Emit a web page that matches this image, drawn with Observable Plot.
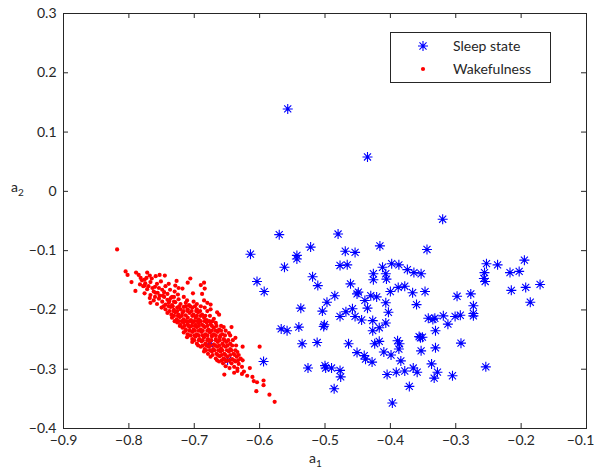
<!DOCTYPE html>
<html><head><meta charset="utf-8">
<script src="https://cdn.jsdelivr.net/npm/d3@7"></script>
<script src="https://cdn.jsdelivr.net/npm/@observablehq/plot@0.6"></script>
<style>
body{margin:0;background:#fff;}
#wrap{position:relative;width:594px;height:475px;}
</style></head><body><div id="wrap"></div>
<script>
const xTicks = [-0.9, -0.8, -0.7, -0.6, -0.5, -0.4, -0.3, -0.2, -0.1];
const yTicks = [-0.4, -0.3, -0.2, -0.1, 0, 0.1, 0.2, 0.3];
const seriesNames = ["Sleep state", "Wakefulness"];
const xLabel = "a", xSub = "1", yLabel = "a", ySub = "2";

// Sleep state: [a1, a2]
const sleep = [
  [-0.557,0.139],[-0.435,0.058],[-0.320,-0.047],
  [-0.570,-0.073],[-0.614,-0.106],[-0.562,-0.128],[-0.604,-0.152],[-0.593,-0.169],
  [-0.567,-0.232],[-0.558,-0.235],[-0.594,-0.287],[-0.676,-0.257],[-0.649,-0.285],
  [-0.480,-0.072],[-0.543,-0.108],[-0.543,-0.114],[-0.522,-0.094],[-0.469,-0.101],
  [-0.454,-0.103],[-0.416,-0.092],[-0.344,-0.098],[-0.477,-0.125],[-0.466,-0.124],
  [-0.519,-0.144],[-0.511,-0.159],[-0.461,-0.156],[-0.426,-0.139],[-0.426,-0.149],
  [-0.412,-0.128],[-0.407,-0.139],[-0.406,-0.148],[-0.398,-0.122],[-0.387,-0.124],
  [-0.374,-0.132],[-0.364,-0.137],[-0.353,-0.139],[-0.400,-0.169],[-0.388,-0.162],
  [-0.378,-0.160],[-0.366,-0.171],[-0.347,-0.169],[-0.451,-0.173],[-0.449,-0.170],
  [-0.485,-0.176],[-0.497,-0.187],[-0.430,-0.176],[-0.421,-0.178],[-0.439,-0.184],
  [-0.435,-0.197],[-0.407,-0.188],[-0.360,-0.191],[-0.537,-0.197],[-0.504,-0.202],
  [-0.458,-0.198],[-0.468,-0.203],[-0.477,-0.211],[-0.454,-0.211],[-0.444,-0.217],
  [-0.427,-0.218],[-0.403,-0.204],[-0.407,-0.222],[-0.417,-0.230],[-0.427,-0.235],
  [-0.502,-0.228],[-0.501,-0.225],[-0.540,-0.229],[-0.342,-0.214],[-0.335,-0.216],
  [-0.332,-0.214],[-0.319,-0.210],[-0.312,-0.224],[-0.301,-0.211],[-0.293,-0.209],
  [-0.273,-0.206],[-0.273,-0.210],[-0.273,-0.193],[-0.277,-0.173],[-0.298,-0.177],
  [-0.331,-0.235],[-0.356,-0.245],[-0.351,-0.246],[-0.354,-0.247],[-0.353,-0.269],
  [-0.331,-0.264],[-0.292,-0.256],[-0.389,-0.252],[-0.386,-0.257],[-0.387,-0.266],
  [-0.417,-0.253],[-0.424,-0.257],[-0.464,-0.257],[-0.512,-0.255],[-0.535,-0.257],
  [-0.451,-0.272],[-0.440,-0.277],[-0.438,-0.283],[-0.428,-0.288],[-0.410,-0.271],
  [-0.399,-0.276],[-0.384,-0.286],[-0.526,-0.298],[-0.500,-0.294],[-0.499,-0.298],
  [-0.490,-0.298],[-0.477,-0.302],[-0.476,-0.313],[-0.486,-0.333],[-0.405,-0.309],
  [-0.391,-0.305],[-0.378,-0.303],[-0.365,-0.298],[-0.359,-0.305],[-0.337,-0.291],
  [-0.328,-0.305],[-0.333,-0.315],[-0.305,-0.311],[-0.371,-0.329],[-0.397,-0.357],
  [-0.254,-0.296],[-0.257,-0.147],[-0.256,-0.137],[-0.255,-0.152],[-0.253,-0.122],
  [-0.236,-0.124],[-0.217,-0.137],[-0.203,-0.135],[-0.195,-0.116],[-0.215,-0.167],
  [-0.193,-0.162],[-0.171,-0.157],[-0.186,-0.187]
];

// Wakefulness: [a1, a2]
const wake = [
  [-0.818,-0.098],
  [-0.805,-0.135],[-0.802,-0.141],[-0.789,-0.137],[-0.785,-0.141],[-0.772,-0.137],[-0.773,-0.146],
  [-0.782,-0.146],[-0.768,-0.142],[-0.759,-0.143],[-0.753,-0.141],[-0.745,-0.142],[-0.776,-0.149],
  [-0.796,-0.153],[-0.780,-0.150],[-0.783,-0.157],[-0.776,-0.159],[-0.767,-0.153],[-0.757,-0.156],
  [-0.739,-0.156],[-0.727,-0.151],[-0.710,-0.154],[-0.690,-0.158],[-0.685,-0.154],[-0.706,-0.147],
  [-0.778,-0.160],[-0.772,-0.165],[-0.764,-0.163],[-0.762,-0.169],[-0.749,-0.166],[-0.729,-0.159],
  [-0.724,-0.163],[-0.718,-0.164],[-0.684,-0.164],[-0.746,-0.170],
  [-0.790,-0.168],[-0.776,-0.172],[-0.767,-0.175],[-0.759,-0.171],[-0.753,-0.176],[-0.741,-0.173],
  [-0.734,-0.178],[-0.730,-0.169],[-0.725,-0.174],[-0.702,-0.172],[-0.688,-0.173],
  [-0.768,-0.180],[-0.762,-0.184],[-0.754,-0.181],[-0.746,-0.178],[-0.741,-0.183],[-0.736,-0.180],
  [-0.731,-0.186],[-0.724,-0.182],[-0.716,-0.178],[-0.711,-0.184],
  [-0.767,-0.188],[-0.757,-0.190],[-0.749,-0.186],[-0.744,-0.191],[-0.739,-0.188],[-0.734,-0.192],
  [-0.729,-0.187],[-0.721,-0.190],[-0.713,-0.188],[-0.708,-0.192],[-0.701,-0.186],[-0.696,-0.190],
  [-0.685,-0.184],[-0.680,-0.188],[-0.675,-0.191],
  [-0.750,-0.196],[-0.744,-0.199],[-0.736,-0.195],[-0.731,-0.200],[-0.726,-0.196],[-0.721,-0.199],
  [-0.716,-0.195],[-0.710,-0.199],[-0.703,-0.196],[-0.696,-0.199],[-0.684,-0.196],[-0.675,-0.199],
  [-0.741,-0.205],[-0.735,-0.208],[-0.729,-0.204],[-0.724,-0.208],[-0.718,-0.205],[-0.713,-0.209],
  [-0.707,-0.205],[-0.701,-0.208],[-0.694,-0.204],[-0.688,-0.208],[-0.665,-0.204],[-0.662,-0.208],
  [-0.734,-0.213],[-0.727,-0.216],[-0.722,-0.212],[-0.716,-0.216],[-0.710,-0.213],[-0.705,-0.217],
  [-0.698,-0.213],[-0.693,-0.216],[-0.685,-0.213],[-0.681,-0.217],[-0.670,-0.215],
  [-0.726,-0.221],[-0.721,-0.225],[-0.716,-0.221],[-0.710,-0.224],[-0.703,-0.221],[-0.698,-0.225],
  [-0.693,-0.222],[-0.688,-0.225],[-0.681,-0.221],[-0.675,-0.224],[-0.667,-0.222],
  [-0.718,-0.230],[-0.713,-0.233],[-0.707,-0.229],[-0.701,-0.233],[-0.696,-0.229],[-0.690,-0.233],
  [-0.684,-0.229],[-0.678,-0.233],[-0.670,-0.230],[-0.662,-0.233],[-0.655,-0.229],[-0.643,-0.229],
  [-0.716,-0.238],[-0.710,-0.241],[-0.703,-0.237],[-0.696,-0.241],[-0.689,-0.237],[-0.683,-0.241],
  [-0.676,-0.238],[-0.670,-0.241],[-0.664,-0.237],[-0.657,-0.241],[-0.647,-0.239],
  [-0.711,-0.246],[-0.703,-0.249],[-0.698,-0.245],[-0.692,-0.249],[-0.685,-0.246],[-0.679,-0.249],
  [-0.673,-0.245],[-0.667,-0.249],[-0.661,-0.246],[-0.655,-0.249],[-0.637,-0.247],
  [-0.703,-0.254],[-0.696,-0.257],[-0.689,-0.253],[-0.683,-0.257],[-0.677,-0.254],[-0.670,-0.258],
  [-0.664,-0.254],[-0.657,-0.257],[-0.651,-0.254],[-0.645,-0.257],
  [-0.690,-0.262],[-0.684,-0.266],[-0.678,-0.262],[-0.671,-0.266],[-0.665,-0.262],[-0.659,-0.265],
  [-0.652,-0.262],[-0.645,-0.266],[-0.626,-0.262],[-0.600,-0.262],
  [-0.685,-0.270],[-0.679,-0.274],[-0.673,-0.270],[-0.666,-0.274],[-0.660,-0.270],[-0.654,-0.274],
  [-0.647,-0.270],[-0.640,-0.274],[-0.634,-0.271],
  [-0.675,-0.279],[-0.667,-0.282],[-0.661,-0.278],[-0.655,-0.282],[-0.649,-0.279],[-0.642,-0.283],
  [-0.635,-0.279],[-0.629,-0.282],
  [-0.662,-0.287],[-0.656,-0.290],[-0.650,-0.286],[-0.643,-0.290],[-0.637,-0.287],[-0.632,-0.291],
  [-0.652,-0.295],[-0.646,-0.298],[-0.639,-0.296],[-0.634,-0.299],[-0.627,-0.296],[-0.615,-0.298],
  [-0.654,-0.309],[-0.639,-0.306],[-0.634,-0.303],[-0.627,-0.308],[-0.619,-0.311],[-0.624,-0.304],
  [-0.611,-0.313],[-0.609,-0.320],[-0.604,-0.322],[-0.594,-0.319],
  [-0.594,-0.327],[-0.605,-0.337],[-0.585,-0.343],[-0.577,-0.355],
  // denser core
  [-0.775,-0.155],[-0.770,-0.160],[-0.765,-0.147],[-0.760,-0.161],[-0.754,-0.163],[-0.751,-0.152],
  [-0.744,-0.160],[-0.737,-0.166],[-0.756,-0.171],[-0.748,-0.176],[-0.738,-0.185],[-0.760,-0.178],
  [-0.731,-0.178],
  [-0.747,-0.194],[-0.739,-0.194],[-0.733,-0.194],[-0.723,-0.194],[-0.713,-0.194],[-0.706,-0.194],
  [-0.699,-0.194],[-0.690,-0.194],
  [-0.738,-0.202],[-0.732,-0.202],[-0.726,-0.202],[-0.716,-0.202],[-0.710,-0.202],[-0.704,-0.202],
  [-0.697,-0.202],[-0.691,-0.202],[-0.680,-0.202],
  [-0.731,-0.210],[-0.725,-0.210],[-0.719,-0.210],[-0.703,-0.210],[-0.696,-0.210],[-0.690,-0.210],
  [-0.683,-0.210],[-0.676,-0.210],
  [-0.730,-0.219],[-0.724,-0.219],[-0.719,-0.219],[-0.712,-0.219],[-0.707,-0.219],[-0.700,-0.219],
  [-0.695,-0.219],[-0.690,-0.219],[-0.684,-0.219],[-0.677,-0.219],[-0.672,-0.219],
  [-0.722,-0.227],[-0.715,-0.227],[-0.709,-0.227],[-0.704,-0.227],[-0.699,-0.227],[-0.693,-0.227],
  [-0.686,-0.227],[-0.680,-0.227],[-0.673,-0.227],[-0.666,-0.227],[-0.659,-0.227],
  [-0.713,-0.235],[-0.707,-0.235],[-0.699,-0.235],[-0.693,-0.235],[-0.687,-0.235],[-0.680,-0.235],
  [-0.673,-0.235],[-0.667,-0.235],[-0.659,-0.235],[-0.652,-0.235],
  [-0.706,-0.243],[-0.700,-0.243],[-0.693,-0.243],[-0.687,-0.243],[-0.680,-0.243],[-0.673,-0.243],
  [-0.667,-0.243],[-0.660,-0.243],[-0.653,-0.243],[-0.645,-0.243],
  [-0.700,-0.251],[-0.693,-0.251],[-0.687,-0.251],[-0.680,-0.251],[-0.674,-0.251],[-0.667,-0.251],
  [-0.661,-0.251],[-0.654,-0.251],[-0.648,-0.251],[-0.641,-0.251],
  [-0.694,-0.260],[-0.687,-0.260],[-0.681,-0.260],[-0.675,-0.260],[-0.668,-0.260],[-0.662,-0.260],
  [-0.655,-0.260],[-0.649,-0.260],[-0.642,-0.260],[-0.636,-0.260],
  [-0.682,-0.268],[-0.676,-0.268],[-0.669,-0.268],[-0.663,-0.268],[-0.657,-0.268],[-0.650,-0.268],
  [-0.643,-0.268],[-0.637,-0.268],
  [-0.672,-0.276],[-0.664,-0.276],[-0.658,-0.276],[-0.652,-0.276],[-0.645,-0.276],[-0.638,-0.276],
  [-0.632,-0.276],
  [-0.665,-0.285],[-0.658,-0.285],[-0.652,-0.285],[-0.646,-0.285],[-0.639,-0.285],[-0.633,-0.285],
  [-0.626,-0.285]
];

const blue = "#0000ff", red = "#ff0000", ink = "#262626";
const fmt = d => d === 0 ? "0" : (d < 0 ? "\u2212" : "") + Math.abs(d).toFixed(1);

// 8-armed asterisk like MATLAB's '*'
const asterisk = {
  draw(ctx, size) {
    const r = Math.sqrt(size / Math.PI);
    const q = r * Math.SQRT1_2;
    ctx.moveTo(-r, 0); ctx.lineTo(r, 0);
    ctx.moveTo(0, -r); ctx.lineTo(0, r);
    ctx.moveTo(-q, -q); ctx.lineTo(q, q);
    ctx.moveTo(-q, q); ctx.lineTo(q, -q);
  }
};

const W = 594, H = 475;
const chart = Plot.plot({
  width: W, height: H,
  marginLeft: 63, marginRight: 8, marginTop: 13, marginBottom: 47,
  style: {fontFamily: "Lato, sans-serif", fontSize: "14px", color: ink, background: "#fff"},
  x: {domain: [-0.9, -0.1]},
  y: {domain: [-0.4, 0.3]},
  marks: [
    Plot.dot(sleep, {x: d => d[0], y: d => d[1], symbol: asterisk, r: 5, stroke: blue, strokeWidth: 1.1}),
    Plot.dot(sleep, {x: d => d[0], y: d => d[1], r: 1.5, fill: blue, stroke: "none"}),
    Plot.dot(wake, {x: d => d[0], y: d => d[1], r: 2.1, fill: red, stroke: "none"}),
    Plot.tickX(xTicks, {x: d => d, stroke: ink, insetTop: 410}),
    Plot.tickX(xTicks, {x: d => d, stroke: ink, insetBottom: 410}),
    Plot.tickY(yTicks, {y: d => d, stroke: ink, insetRight: 518}),
    Plot.tickY(yTicks, {y: d => d, stroke: ink, insetLeft: 518}),
    Plot.axisX({ticks: xTicks, tickSize: 0, tickPadding: 7, tickFormat: fmt, label: null, fontSize: 14}),
    Plot.axisY({ticks: yTicks, tickSize: 0, tickPadding: 7, tickFormat: fmt, label: null, fontSize: 14}),
    Plot.frame({stroke: ink})
  ]
});
document.getElementById("wrap").appendChild(chart);

const svg = d3.select(chart);
// keep the last x tick label inside the window
svg.selectAll("[aria-label='x-axis tick label'] text").filter((d, i, n) => i === n.length - 1)
  .attr("dx", -6);

// axis labels with subscripts
const xl = svg.append("text").attr("x", 309).attr("y", 463).attr("font-size", 14).attr("fill", ink).attr("text-anchor", "start");
xl.append("tspan").text(xLabel);
xl.append("tspan").attr("dy", 4).attr("font-size", 10).text(xSub);
const yl = svg.append("text").attr("x", 11).attr("y", 192).attr("font-size", 14).attr("fill", ink).attr("text-anchor", "start");
yl.append("tspan").text(yLabel);
yl.append("tspan").attr("dy", 4).attr("font-size", 10).text(ySub);

// legend
const lg = svg.append("g").attr("text-anchor", "start");
lg.append("rect").attr("x", 390.5).attr("y", 32.5).attr("width", 160).attr("height", 50)
  .attr("fill", "#fff").attr("stroke", ink);
const symPath = d3.symbol().type(asterisk).size(25 * Math.PI)();
lg.append("path").attr("d", symPath).attr("transform", "translate(423,46)").attr("stroke", blue).attr("stroke-width", 1.1).attr("fill", "none");
lg.append("circle").attr("cx", 423).attr("cy", 46).attr("r", 1.5).attr("fill", blue);
lg.append("circle").attr("cx", 423).attr("cy", 69).attr("r", 2.1).attr("fill", red);
lg.append("text").attr("x", 453).attr("y", 51).attr("font-size", 14).attr("fill", ink).text(seriesNames[0]);
lg.append("text").attr("x", 453).attr("y", 74).attr("font-size", 14).attr("fill", ink).text(seriesNames[1]);
</script></body></html>
